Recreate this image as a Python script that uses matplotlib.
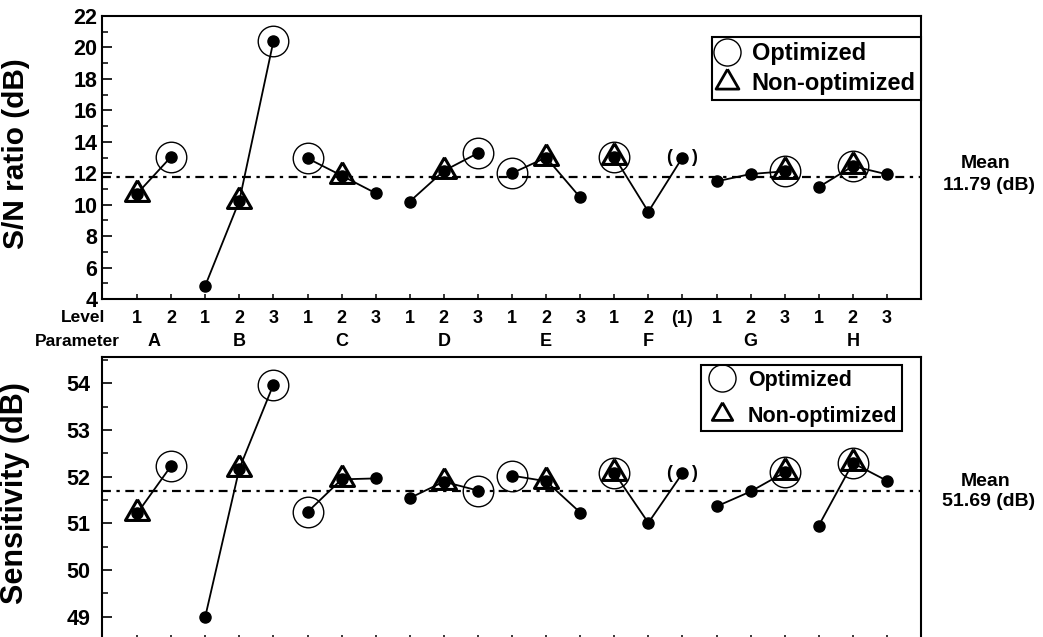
import matplotlib.pyplot as plt
from matplotlib.lines import Line2D
from matplotlib.ticker import MultipleLocator

plt.rcParams['font.family'] = ['Liberation Sans', 'DejaVu Sans']
plt.rcParams['font.weight'] = 'bold'

# --- data ---
params = ['A', 'B', 'C', 'D', 'E', 'F', 'G', 'H']
level_labels = [['1', '2'], ['1', '2', '3'], ['1', '2', '3'], ['1', '2', '3'],
                ['1', '2', '3'], ['1', '2', '(1)'], ['1', '2', '3'], ['1', '2', '3']]
sn_ratio = [[10.7, 13.05], [4.85, 10.25, 20.4], [12.95, 11.85, 10.73],
            [10.2, 12.15, 13.28], [12.0, 13.0, 10.46], [13.05, 9.55, 13.0],
            [11.48, 11.95, 12.12], [11.12, 12.45, 11.93]]
sensitivity = [[51.21, 52.23], [49.0, 52.17, 53.97], [51.24, 51.94, 51.96],
               [51.54, 51.89, 51.70], [52.02, 51.9, 51.23], [52.08, 51.01, 52.07],
               [51.36, 51.68, 52.09], [50.95, 52.29, 51.91]]
# (parameter index, level index)
optimized = [(0, 1), (1, 2), (2, 0), (3, 2), (4, 0), (5, 0), (6, 2), (7, 1)]
non_optimized = [(0, 0), (1, 1), (2, 1), (3, 1), (4, 1), (5, 0), (6, 2), (7, 1)]
bracketed = [(5, 2)]
sn_mean = 11.79
sens_mean = 51.69

# x positions, one per level, grouped by parameter
positions = []
start = 0
for lv in level_labels:
    positions.append(list(range(start, start + len(lv))))
    start += len(lv)
flat_pos = [p for grp in positions for p in grp]
flat_lab = [l for grp in level_labels for l in grp]

tri = [(0, 1), (-0.866, -0.5), (0.866, -0.5), (0, 1)]

W, H = 1043, 637
fig = plt.figure(figsize=(W / 100, H / 100), dpi=100)
ax1 = fig.add_axes([102 / W, 1 - 299 / H, 819 / W, 283 / H])
ax2 = fig.add_axes([102 / W, 1 - 640 / H, 819 / W, 283 / H])


def draw(ax, values, mean, ylim, major, minor, label, label_y, label_fs, tick_fs, ypad,
         leg_anchor, leg_fs, leg_ms, leg_tri, leg_sp, leg_hl, leg_tp):
    for xs, ys in zip(positions, values):
        ax.plot(xs, ys, color='black', lw=1.3, zorder=2)
        ax.plot(xs, ys, 'o', ms=8, color='black', zorder=5)
    for gi, li in optimized:
        ax.plot(positions[gi][li], values[gi][li], 'o', ms=22, mfc='none',
                mec='black', mew=1.0, zorder=3)
    for gi, li in non_optimized:
        ax.plot(positions[gi][li], values[gi][li], marker=tri, ms=20,
                mfc='none', mec='black', mew=2.2, ls='none', zorder=4)
    for gi, li in bracketed:
        for t, dx in (('(', -9.5), (')', 8.5)):
            ax.annotate(t, (positions[gi][li], values[gi][li]),
                        xytext=(dx, 0), textcoords='offset points',
                        ha='center', va='center', fontsize=13)
    ax.axhline(mean, color='black', lw=1.6, ls=(0, (4, 2.5, 1.5, 2.5)), zorder=1)

    ax.set_xlim(-1.03, 23.0)
    ax.set_ylim(*ylim)
    ax.yaxis.set_major_locator(MultipleLocator(major))
    ax.yaxis.set_minor_locator(MultipleLocator(minor))
    ax.tick_params(axis='y', which='major', direction='in', length=7,
                   width=1.2, labelsize=tick_fs, pad=ypad)
    ax.tick_params(axis='y', which='minor', direction='in', length=4.5, width=1.1)
    ax.tick_params(axis='x', direction='in', length=3.5, width=1.1)
    for s in ax.spines.values():
        s.set_linewidth(1.5)
    ax.set_ylabel(label, fontsize=label_fs, fontweight='bold')
    ax.yaxis.set_label_coords(-0.088, label_y)

    handles = [Line2D([], [], marker='o', ms=leg_ms, mfc='none', mec='black',
                      mew=1.0, ls='none'),
               Line2D([], [], marker=tri, ms=leg_tri, mfc='none', mec='black',
                      mew=2.0, ls='none')]
    leg = ax.legend(handles, ['Optimized', 'Non-optimized'], loc='upper right',
                    bbox_to_anchor=leg_anchor, borderaxespad=0, fancybox=False,
                    edgecolor='black', framealpha=1, prop={'size': leg_fs, 'weight': 'bold'},
                    borderpad=0.22, labelspacing=leg_sp, handlelength=leg_hl,
                    handletextpad=leg_tp)
    leg.get_frame().set_linewidth(1.5)


draw(ax1, sn_ratio, sn_mean, (4, 22), 2, 1, 'S/N ratio (dB)', 0.515, 21.5, 15.5, 3.5,
     (1.0, 0.926), 17, 19.5, 19, 0.3, 0.8, 0.65)
draw(ax2, sensitivity, sens_mean, (48.5, 54.56), 1, 0.5, 'Sensitivity (dB)', 0.519, 22, 15.5, 8.5,
     (0.977, 0.972), 15.5, 19.5, 17, 0.7, 1.45, 0.5)

ax1.set_xticks(flat_pos, flat_lab, fontsize=13)
ax1.tick_params(axis='x', pad=8)
ax2.set_xticks(flat_pos, [])

xt = ax1.get_xaxis_transform()
ax1.text(0.004, -0.066, 'Level', transform=ax1.transAxes, ha='right',
         va='center', fontsize=12.5)
ax1.text(0.022, -0.150, 'Parameter', transform=ax1.transAxes, ha='right',
         va='center', fontsize=12.5)
for grp, name in zip(positions, params):
    ax1.text(sum(grp) / len(grp) if len(grp) == 3 else (grp[0] + grp[1]) / 2,
             -0.150, name, transform=xt, ha='center', va='center', fontsize=13)

fig.text(986 / W, 1 - 163 / H, 'Mean', ha='center', va='center', fontsize=14)
fig.text(989 / W, 1 - 185 / H, f'{sn_mean:.2f} (dB)', ha='center', va='center', fontsize=14)
fig.text(986 / W, 1 - 481 / H, 'Mean', ha='center', va='center', fontsize=14)
fig.text(989 / W, 1 - 501 / H, f'{sens_mean:.2f} (dB)', ha='center', va='center', fontsize=14)

fig.savefig('out.png', dpi=100)
